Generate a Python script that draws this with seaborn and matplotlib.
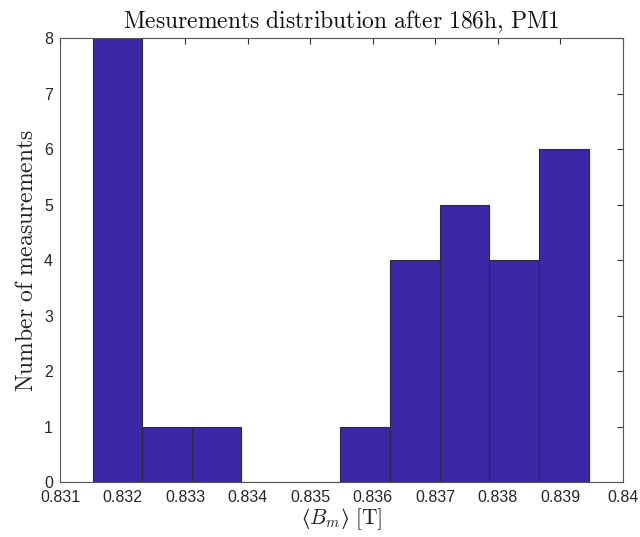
import numpy as np
import pandas as pd
import matplotlib
matplotlib.use("Agg")
import matplotlib.pyplot as plt
import seaborn as sns

# Histogram bins (field in tesla) and counts per bin
bin_edges = [0.83152, 0.83231, 0.83311, 0.83390, 0.83469, 0.83548,
             0.83628, 0.83707, 0.83786, 0.83866, 0.83945]
counts = [8, 1, 1, 0, 0, 1, 4, 5, 4, 6]
x_ticks = [0.831, 0.832, 0.833, 0.834, 0.835, 0.836, 0.837, 0.838, 0.839, 0.84]
x_tick_labels = ["0.831", "0.832", "0.833", "0.834", "0.835",
                 "0.836", "0.837", "0.838", "0.839", "0.84"]
y_ticks = [0, 1, 2, 3, 4, 5, 6, 7, 8]

centers = [(a + b) / 2 for a, b in zip(bin_edges[:-1], bin_edges[1:])]
df = pd.DataFrame({"B": centers, "n": counts})

sns.set_style("white")
plt.rcParams["font.family"] = ["Liberation Sans", "DejaVu Sans"]
plt.rcParams["mathtext.fontset"] = "cm"

fig = plt.figure(figsize=(6.4, 5.37), dpi=100)
ax = fig.add_axes([0.09375, 0.1024, 0.8797, 0.8268])

sns.histplot(data=df, x="B", weights="n", bins=bin_edges, ax=ax,
             color="#3c28a6", alpha=1.0, edgecolor="#2a2a3a", linewidth=0.8)

ax.set_xlim(0.831, 0.84)
ax.set_ylim(0, 8)
ax.set_xticks(x_ticks)
ax.set_xticklabels(x_tick_labels)
ax.set_yticks(y_ticks)

axis_color = "#555555"
for s in ax.spines.values():
    s.set_visible(True)
    s.set_color(axis_color)
    s.set_linewidth(0.8)

ax.tick_params(axis="both", which="both", direction="in", length=4,
               width=0.8, color="#333333", labelsize=11.5,
               labelcolor="#262626", top=True, right=True)
ax.tick_params(axis="x", pad=6)
ax.tick_params(axis="y", pad=5)

ax.set_title(r"$\mathrm{Mesurements\ distribution\ after\ 186h{,}\ PM1}$",
             fontsize=17, pad=7, color="#111111")
ax.set_xlabel("$\u27e8B_m\u27e9\\ [\\mathrm{T}]$", fontsize=15.5,
              color="#222222", labelpad=1)
ax.set_ylabel(r"$\mathrm{Number\ of\ measurements}$", fontsize=17,
              color="#222222", labelpad=4)

fig.savefig("out.png", dpi=100)
